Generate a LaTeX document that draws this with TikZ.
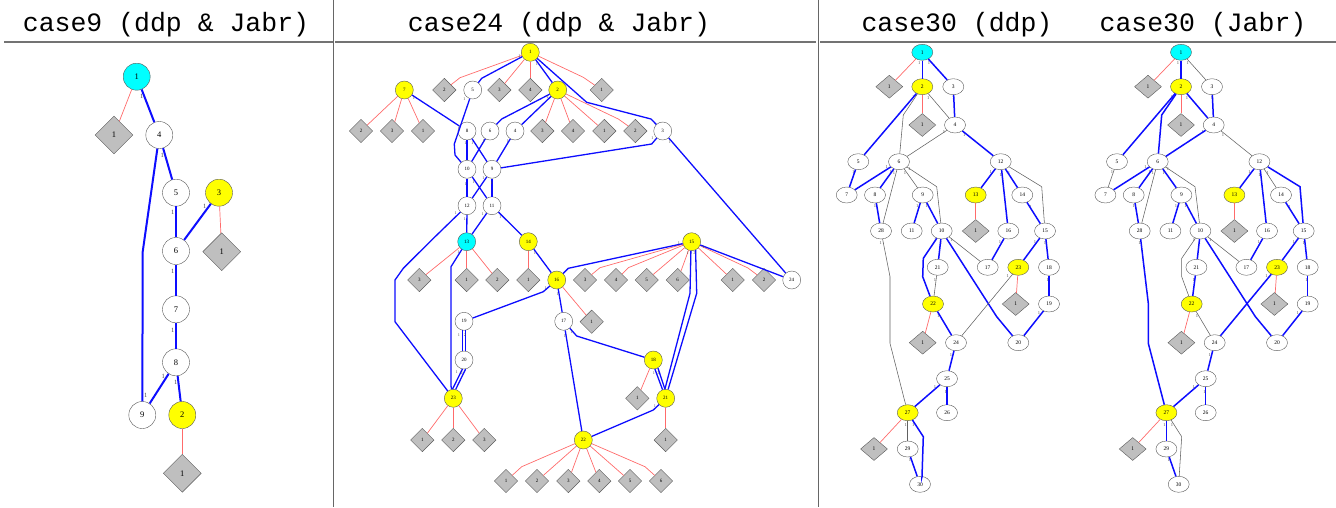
\documentclass[tikz,border=0pt]{standalone}
\usepackage{fontspec}
\setmainfont{Liberation Serif}
\setmonofont{Liberation Mono}
\usetikzlibrary{shapes.geometric,calc}
\definecolor{cYel}{rgb}{1,1,0}
\definecolor{cCyan}{rgb}{0,1,1}
\definecolor{cDia}{rgb}{0.75,0.75,0.75}
\definecolor{cBlue}{rgb}{0.05,0.05,1}
\definecolor{cRed}{rgb}{1,0.42,0.42}
\definecolor{cGr}{rgb}{0.38,0.38,0.38}
\definecolor{cLbl}{rgb}{0.3,0.3,0.3}
\definecolor{cRule}{rgb}{0.45,0.45,0.45}
\tikzset{
 nd/.style={draw=black!65, line width=0.4pt, inner sep=0pt, fill=white},
 cnine/.style={nd, circle, minimum size=27pt, font=\fontsize{8.5}{8.5}\selectfont},
 dnine/.style={nd, diamond, fill=cDia, minimum width=38pt, minimum height=38pt, font=\fontsize{8.5}{8.5}\selectfont},
 ctw/.style={nd, circle, minimum size=18pt, font=\fontsize{5}{5}\selectfont},
 dtw/.style={nd, diamond, fill=cDia, minimum width=23.5pt, minimum height=23.5pt, font=\fontsize{5}{5}\selectfont},
 elp/.style={nd, ellipse, minimum width=21pt, minimum height=16pt, font=\fontsize{5.5}{5.5}\selectfont},
 dth/.style={nd, diamond, fill=cDia, minimum width=27pt, minimum height=23pt, font=\fontsize{5.5}{5.5}\selectfont},
 ye/.style={fill=cYel}, cy/.style={fill=cCyan},
 bnine/.style={draw=cBlue, line width=2pt},
 btw/.style={draw=cBlue, line width=1.3pt},
 bth/.style={draw=cBlue, line width=1.5pt},
 rline/.style={draw=cRed, line width=0.7pt},
 gline/.style={draw=cGr, line width=0.55pt},
 tnine/.style={text=cLbl, inner sep=0pt, font=\fontsize{6.5}{6.5}\selectfont},
 ttw/.style={text=cLbl, inner sep=0pt, font=\fontsize{4.2}{4.2}\selectfont},
 tth/.style={text=cLbl, inner sep=0pt, font=\fontsize{4.5}{4.5}\selectfont},
 ttl/.style={font=\ttfamily\fontsize{26.5}{26.5}\selectfont, anchor=base, inner sep=0pt},
}
\newcommand\ctnodes[2]{%
\node[elp,cy] (#1n1) at ({#2+922.3},52.3) {1};
\node[dth] (#1d1) at ({#2+889.3},86.7) {1};
\node[elp,ye] (#1n2) at ({#2+922.3},86.7) {2};
\node[elp] (#1n3) at ({#2+953.3},86.7) {3};
\node[dth] (#1d2) at ({#2+922.3},125) {1};
\node[elp] (#1n4) at ({#2+955},125) {4};
\node[elp] (#1n5) at ({#2+858.3},161.7) {5};
\node[elp] (#1n6) at ({#2+899},161.7) {6};
\node[elp] (#1n12) at ({#2+1000.7},161.7) {12};
\node[elp] (#1n7) at ({#2+846.7},195) {7};
\node[elp] (#1n8) at ({#2+875},195) {8};
\node[elp] (#1n9) at ({#2+922.7},195) {9};
\node[elp,ye] (#1n13) at ({#2+975.7},195) {13};
\node[elp] (#1n14) at ({#2+1022.3},195) {14};
\node[elp] (#1n28) at ({#2+881},231) {28};
\node[elp] (#1n11) at ({#2+911.7},231) {11};
\node[elp] (#1n10) at ({#2+941.7},231) {10};
\node[dth] (#1d13) at ({#2+975.7},231) {1};
\node[elp] (#1n16) at ({#2+1008.3},231) {16};
\node[elp] (#1n15) at ({#2+1045},231) {15};
\node[elp] (#1n21) at ({#2+937.7},267.3) {21};
\node[elp] (#1n17) at ({#2+987.7},267.3) {17};
\node[elp,ye] (#1n23) at ({#2+1018.3},267.3) {23};
\node[elp] (#1n18) at ({#2+1049},267.3) {18};
\node[elp,ye] (#1n22) at ({#2+933},304) {22};
\node[dth] (#1d23) at ({#2+1015.7},304) {1};
\node[elp] (#1n19) at ({#2+1049},304) {19};
\node[dth] (#1d22) at ({#2+922.7},342.7) {1};
\node[elp] (#1n24) at ({#2+956},342.7) {24};
\node[elp] (#1n20) at ({#2+1018.3},342.7) {20};
\node[elp] (#1n25) at ({#2+947},378.7) {25};
\node[elp,ye] (#1n27) at ({#2+907.7},412.7) {27};
\node[elp] (#1n26) at ({#2+947},412.7) {26};
\node[dth] (#1d27) at ({#2+874},449) {1};
\node[elp] (#1n29) at ({#2+907.7},449) {29};
\node[elp] (#1n30) at ({#2+920},484.3) {30};
\draw[rline] (#1n1) -- (#1d1);
\draw[rline] (#1n2) -- (#1d2);
\draw[rline] (#1n13) -- (#1d13);
\draw[rline] (#1n22) -- (#1d22);
\draw[rline] (#1n23) -- (#1d23);
\draw[rline] (#1n27) -- (#1d27);
\foreach \x/\y in {919.3/63.3,929/62.7,913.3/96.7,928.3/98.3,953.3/98.3,944/131.7,964.3/135,853.3/171.7,886.7/166.7,890.7/171.7,894/173.3,905/173.3,909.3/169.3,875/206,917.3/205.7,926.7/205.7,990.7/171.7,1000.7/175,1009/173.3,1030.7/206.7,880.7/243.3,935.3/240,941/243.3,951.7/240,1000/241.7,1035/241.7,1045/243.3,935/280,938.3/316,1007.7/276,1047.7/280,1039/313.3,951/355,935/386.7,945.7/391.7,905.7/425,913.3/425,910/460}
  {\path node[tth] at ({#2+\x},\y) {1};}
}
\begin{document}
\begin{tikzpicture}[x=1pt,y=-1pt]
\useasboundingbox (0,0) rectangle (1336,507);
% titles and rules
\node[ttl] (T1) at (166,31) {case9 (ddp \& Jabr)};
\node[ttl] (T2) at (559,31) {case24 (ddp \& Jabr)};
\node[ttl] (T3) at (957,31) {case30 (ddp)};
\node[ttl] (T4) at (1203,31) {case30 (Jabr)};
\draw[cRule, line width=1.4pt] (4,42) -- (333,42);
\draw[cRule, line width=1.4pt] (335,42) -- (816,42);
\draw[cRule, line width=1.4pt] (820,42) -- (1336,42);
\draw[black!60, line width=1pt] (333,0) -- (333,507);
\draw[black!60, line width=1pt] (818,0) -- (818,507);
%%%%%%%%%%%% case9
\node[cnine,cy] (a1) at (136.7,76.7) {1};
\node[dnine] (ad1) at (114,135) {1};
\node[cnine] (a4) at (159.3,135) {4};
\node[cnine] (a5) at (176,192.7) {5};
\node[cnine,ye] (a3) at (219,192.7) {3};
\node[cnine] (a6) at (176,251) {6};
\node[dnine] (ad3) at (221.7,251.7) {1};
\node[cnine] (a7) at (176,309.3) {7};
\node[cnine] (a8) at (176,362.3) {8};
\node[cnine] (a9) at (142.3,415) {9};
\node[cnine,ye] (a2) at (182.3,415) {2};
\node[dnine] (ad2) at (182.3,473.3) {1};
\draw[rline] (a1) -- (ad1);
\draw[rline] (a3) -- (ad3);
\draw[rline] (a2) -- (ad2);
\draw[bnine] (a1) -- (a4) node[tnine] at (141.7,96.7) {1};
\draw[bnine] (a4) -- (a5) node[tnine] at (162.3,155) {1};
\draw[bnine] (a4) -- (142.7,251.7) -- (a9) node[tnine] at (145.7,395) {1};
\draw[bnine] (a5) -- (a6) node[tnine] at (172.7,212.3) {1};
\draw[bnine] (a3) -- (a6) node[tnine] at (204.7,206.7) {1};
\draw[bnine] (a6) -- (a7) node[tnine] at (172.7,271.7) {1};
\draw[bnine] (a7) -- (a8) node[tnine] at (172.7,330) {1};
\draw[bnine] (a8) -- (a9) node[tnine] at (163.3,376.7) {1};
\draw[bnine] (a8) -- (a2) node[tnine] at (175.7,382.7) {1};
%%%%%%%%%%%% case24
\node[ctw,ye] (b1) at (530.3,52.3) {1};
\node[ctw,ye] (b7) at (404.3,90) {7};
\node[dtw] (bd12) at (444.3,90) {2};
\node[ctw] (b5) at (472.7,90) {5};
\node[dtw] (bd13) at (499.3,90) {3};
\node[dtw] (bd14) at (530.3,90) {4};
\node[ctw,ye] (b2) at (557.7,90) {2};
\node[dtw] (bd11) at (601.7,90) {1};
\node[dtw] (bd72) at (361,131) {2};
\node[dtw] (bd73) at (392,131) {3};
\node[dtw] (bd71) at (423,131) {1};
\node[ctw] (b8) at (467,131) {8};
\node[ctw] (b6) at (490,131) {6};
\node[ctw] (b4) at (515,131) {4};
\node[dtw] (bd23) at (542.3,131) {3};
\node[dtw] (bd24) at (573,131) {4};
\node[dtw] (bd21) at (604.3,131) {1};
\node[dtw] (bd22) at (635.3,131) {2};
\node[ctw] (b3) at (662.7,131) {3};
\node[ctw] (b10) at (467,169.3) {10};
\node[ctw] (b9) at (492,169.3) {9};
\node[ctw] (b12) at (467,205.7) {12};
\node[ctw] (b11) at (492,205.7) {11};
\node[ctw,cy] (b13) at (466.7,241.7) {13};
\node[ctw,ye] (b14) at (528.3,241.7) {14};
\node[ctw,ye] (b15) at (691.7,241.7) {15};
\node[dtw] (bdd3) at (419.3,280) {3};
\node[dtw] (bdd1) at (466.7,280) {1};
\node[dtw] (bdd2) at (497.3,280) {2};
\node[dtw] (bde1) at (528.3,280) {1};
\node[ctw,ye] (b16) at (556.7,280) {16};
\node[dtw] (bdf3) at (585,280) {3};
\node[dtw] (bdf4) at (616,280) {4};
\node[dtw] (bdf5) at (646.7,280) {5};
\node[dtw] (bdf6) at (677.7,280) {6};
\node[dtw] (bdf1) at (732.7,280) {1};
\node[dtw] (bdf2) at (764,280) {2};
\node[ctw] (b24) at (791.7,280) {24};
\node[ctw] (b19) at (464,321.3) {19};
\node[ctw] (b17) at (563.7,321.3) {17};
\node[dtw] (bdg1) at (591.7,321.7) {1};
\node[ctw] (b20) at (464,360) {20};
\node[ctw,ye] (b18) at (653.3,360) {18};
\node[ctw,ye] (b23) at (453.3,398.3) {23};
\node[dtw] (bdh1) at (637.3,398.3) {1};
\node[ctw,ye] (b21) at (665.7,398.3) {21};
\node[dtw] (bdi1) at (422.3,440) {1};
\node[dtw] (bdi2) at (453.3,440) {2};
\node[dtw] (bdi3) at (484.3,440) {3};
\node[ctw,ye] (b22) at (583.3,440) {22};
\node[dtw] (bdj1) at (665.7,440) {1};
\node[dtw] (bdk1) at (506,481) {1};
\node[dtw] (bdk2) at (537,481) {2};
\node[dtw] (bdk3) at (568.3,481) {3};
\node[dtw] (bdk4) at (599.3,481) {4};
\node[dtw] (bdk5) at (630,481) {5};
\node[dtw] (bdk6) at (661,481) {6};
% red
\draw[rline] (b1) -- (460,77.7) -- (bd12);
\draw[rline] (b1) -- (bd13);
\draw[rline] (b1) -- (bd14);
\draw[rline] (b1) -- (583.3,77.3) -- (bd11);
\draw[rline] (b7) -- (bd72);
\draw[rline] (b7) -- (bd73);
\draw[rline] (b7) -- (bd71);
\draw[rline] (b2) -- (bd23);
\draw[rline] (b2) -- (bd24);
\draw[rline] (b2) -- (bd21);
\draw[rline] (b2) -- (618.3,119) -- (bd22);
\draw[rline] (b13) -- (bdd3);
\draw[rline] (b13) -- (bdd1);
\draw[rline] (b13) -- (bdd2);
\draw[rline] (b14) -- (bde1);
\draw[rline] (b15) -- (600,267.7) -- (bdf3);
\draw[rline] (b15) -- (628.3,267.7) -- (bdf4);
\draw[rline] (b15) -- (bdf5);
\draw[rline] (b15) -- (bdf6);
\draw[rline] (b15) -- (bdf1);
\draw[rline] (b15) -- (748,268) -- (bdf2);
\draw[rline] (b16) -- (bdg1);
\draw[rline] (b18) -- (bdh1);
\draw[rline] (b21) -- (bdj1);
\draw[rline] (b23) -- (bdi1);
\draw[rline] (b23) -- (bdi2);
\draw[rline] (b23) -- (bdi3);
\draw[rline] (b22) -- (521.7,466.7) -- (bdk1);
\draw[rline] (b22) -- (bdk2);
\draw[rline] (b22) -- (bdk3);
\draw[rline] (b22) -- (bdk4);
\draw[rline] (b22) -- (bdk5);
\draw[rline] (b22) -- (645,466.7) -- (bdk6);
% blue
\draw[btw] (b1) -- (481.7,78.3) -- (b5);
\draw[btw] (b1) -- (b2);
\draw[btw] (b1) -- (586.7,102.3) -- (651,119) -- (b3);
\draw[btw] (b7) -- (b8);
\draw[btw] (b5) -- (454.3,144) -- (455,155) -- (b10);
\draw[btw, line width=2.2pt] (b8) -- (b10);
\draw[btw] (b8) -- (b9);
\draw[btw] (b6) -- (b10);
\draw[btw] (b2) -- (501.7,119) -- (b6);
\draw[btw] (b2) -- (b4);
\draw[btw] (b4) -- (b9);
\draw[btw] (b9) -- (651.7,144) -- (b3);
\draw[btw] (b10) -- (b12);
\draw[btw] (b10) -- (b11);
\draw[btw] (b9) -- (b12);
\draw[btw, line width=1.8pt] (b9) -- (b11);
\draw[btw] (b12) -- (b13);
\draw[btw] (b11) -- (b13);
\draw[btw] (b11) -- (b14);
\draw[btw] (b12) -- (431.7,240) -- (403.3,268.3) -- (395,280) -- (395,321.7) -- (b23);
\draw[btw] (b13) -- (451,266.7) -- (451,386) -- (b23);
\draw[btw] (b14) -- (b16);
\draw[btw] (b16) -- (543.3,291.7) -- (b19);
\draw[btw] (b19.-100) -- (b20.100);
\draw[btw] (b19.-80) -- (b20.80);
\draw[btw] (b20.-100) -- (b23.95);
\draw[btw] (b20.-80) -- (b23.75);
\draw[btw] (b16) -- (b17);
\draw[btw] (b16) -- (568.3,268.3) -- (b15);
\draw[btw] (b17) -- (576.7,336) -- (b18);
\draw[btw] (b17) -- (b22);
\draw[btw] (b18.-80) -- (b21.110);
\draw[btw] (b18.-60) -- (b21.95);
\draw[btw] (b15.-95) -- (690,293.3) -- (b21.95);
\draw[btw] (b15.-65) -- (696.7,293.3) -- (b21.75);
\draw[btw] (b15) -- (b24);
\draw[btw] (b3) -- (b24);
\draw[btw] (b21) -- (653.3,410) -- (b22);
\foreach \x/\y in {519.3/56,537/64,414/98.3,464.3/99.3,547.3/97.3,465.3/143.3,472.3/142.7,484/140.7,508/140.7,465.7/184,473.7/181.7,483.3/178.3,491.7/183.3,455.7/212.7,464.7/219,482.7/214,500.3/216.7,652.3/138.3,670/141.7,458.3/251.7,535/253.3,545.7/288.3,557.7/294,459/335,456.7/371.7,654/373.3,679/242.7,703.3/246.7,687.7/253.3,655/406,565/336,571.7/331.7}
  {\path node[ttw] at (\x,\y) {1};}
\foreach \x/\y in {465/335,461.7/373.3,694.3/253.3,658.3/373.3}
  {\path node[ttw] at (\x,\y) {2};}
%%%%%%%%%%%% case30 ddp
\ctnodes{d}{0}
\draw[bth] (dn1) -- (dn2);
\draw[bth] (dn1) -- (dn3);
\draw[bth] (dn2) -- (dn5);
\draw[bth] (dn3) -- (dn4);
\draw[bth] (dn4) -- (dn12);
\draw[bth] (dn5) -- (dn7);
\draw[bth] (dn6) -- (dn7);
\draw[bth] (dn6) -- (dn8);
\draw[bth] (dn8) -- (dn28);
\draw[bth] (dn9) -- (dn11);
\draw[bth] (dn9) -- (dn10);
\draw[bth] (dn12) -- (dn13);
\draw[bth] (dn12) -- (dn16);
\draw[bth] (dn12) -- (dn14);
\draw[bth] (dn14) -- (dn15);
\draw[bth] (dn16) -- (dn17);
\draw[bth] (dn10) -- (923.3,258.3) -- (922.7,276.7) -- (dn22);
\draw[bth] (dn10) -- (dn21);
\draw[bth] (dn10) -- (996.7,316.7) -- (dn20);
\draw[bth] (dn15) -- (dn23);
\draw[bth] (dn15) -- (dn18);
\draw[bth] (dn22) -- (dn24);
\draw[bth] (dn18) -- (dn19);
\draw[bth] (dn19) -- (dn20);
\draw[bth] (dn24) -- (dn25);
\draw[bth] (dn25) -- (dn27);
\draw[bth] (dn25) -- (dn26);
\draw[bth] (dn27) -- (923.3,436.7) -- (922,476.7) -- (dn30);
\draw[bth] (dn29) -- (dn30);
\draw[gline] (dn2) -- (903.3,115) -- (dn6);
\draw[gline] (dn2) -- (dn4);
\draw[gline] (dn4) -- (dn6);
\draw[gline] (dn6) -- (dn28);
\draw[gline] (dn6) -- (dn9);
\draw[gline] (dn6) -- (936.7,186.7) -- (dn10);
\draw[gline] (dn12) -- (1041.7,186.7) -- (dn15);
\draw[gline] (dn10) -- (dn17);
\draw[gline] (dn28) -- (890,276.7) -- (890,343.3) -- (dn27);
\draw[gline] (dn21) -- (dn22);
\draw[gline] (dn23) -- (dn24);
\draw[gline] (dn27) -- (dn29);
%%%%%%%%%%%% case30 Jabr
\ctnodes{j}{258.7}
\draw[bth] (jn1) -- (jn2);
\draw[bth] (jn2) -- (jn5);
\draw[bth] (jn2) -- (1161.7,115) -- (jn6);
\draw[bth] (jn2) -- (jn4);
\draw[bth] (jn3) -- (jn4);
\draw[bth] (jn4) -- (jn6);
\draw[bth] (jn6) -- (jn7);
\draw[bth] (jn6) -- (jn8);
\draw[bth] (jn6) -- (jn9);
\draw[bth] (jn8) -- (jn28);
\draw[bth] (jn9) -- (jn11);
\draw[bth] (jn9) -- (jn10);
\draw[bth] (jn12) -- (jn13);
\draw[bth] (jn12) -- (jn16);
\draw[bth] (jn12) -- (1300,186.7) -- (jn15);
\draw[bth] (jn14) -- (jn15);
\draw[bth] (jn16) -- (jn17);
\draw[bth] (jn10) -- (jn21);
\draw[bth] (jn10) -- (1255.4,316.7) -- (jn20);
\draw[bth] (jn15) -- (jn23);
\draw[bth] (jn15) -- (jn18);
\draw[bth] (jn28) -- (1148.3,303.3) -- (1148.3,343.3) -- (jn27);
\draw[bth] (jn21) -- (jn22);
\draw[bth] (jn23) -- (jn24);
\draw[bth] (jn18) -- (jn19);
\draw[bth] (jn19) -- (jn20);
\draw[bth] (jn24) -- (jn25);
\draw[bth] (jn25) -- (jn27);
\draw[bth] (jn25) -- (jn26);
\draw[bth] (jn27) -- (jn29);
\draw[bth] (jn29) -- (jn30);
\draw[gline] (jn1) -- (jn3);
\draw[gline] (jn4) -- (jn12);
\draw[gline] (jn5) -- (jn7);
\draw[gline] (jn6) -- (jn28);
\draw[gline] (jn6) -- (1195,186.7) -- (jn10);
\draw[gline] (jn12) -- (jn14);
\draw[gline] (jn10) -- (1181.7,258.3) -- (1181.7,276.7) -- (jn22);
\draw[gline] (jn10) -- (jn17);
\draw[gline] (jn22) -- (jn24);
\draw[gline] (jn27) -- (1181.7,436.7) -- (1180,463.3) -- (jn30);
\end{tikzpicture}
\end{document}
